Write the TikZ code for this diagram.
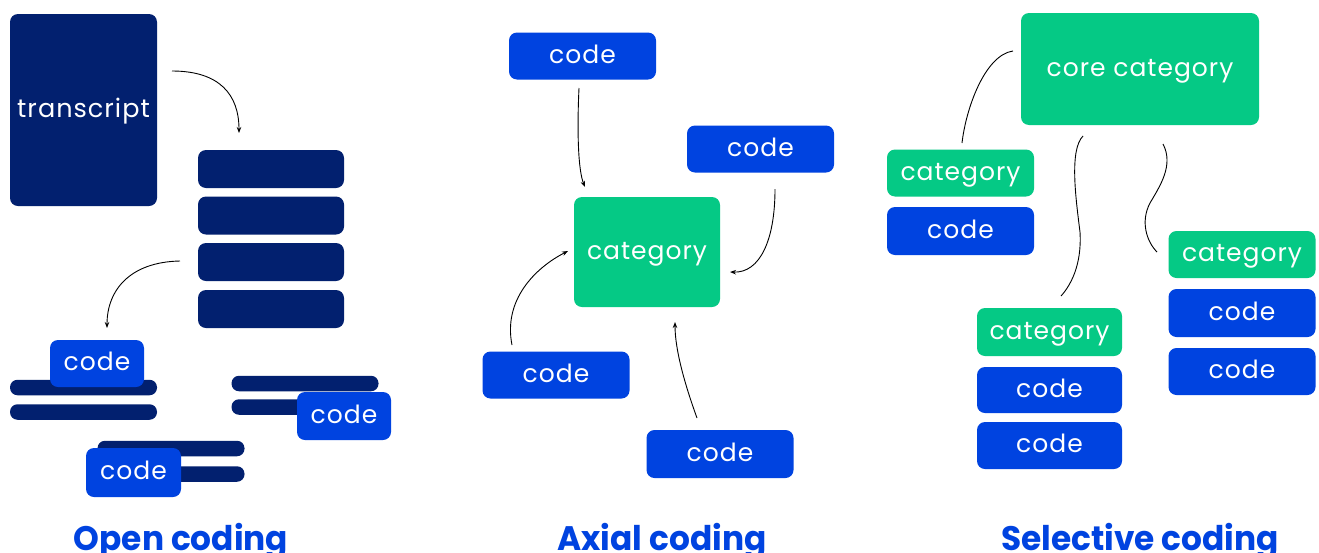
\documentclass[tikz,border=0pt]{standalone}
\usepackage{fontspec}
\setmainfont{Poppins}
\newfontfamily\bodyfont[LetterSpace=4]{Poppins}
\usetikzlibrary{arrows.meta}
\definecolor{navy}{HTML}{02206F}
\definecolor{codeblue}{HTML}{0043E0}
\definecolor{catgreen}{HTML}{05C985}
\begin{document}
\begin{tikzpicture}[x=1pt,y=-1pt,
  boxbase/.style={rounded corners=8pt, inner sep=0pt, text=white,
    font=\bodyfont\fontsize{25}{30}\selectfont, text height=19pt, text depth=5pt},
  navybox/.style={boxbase, fill=navy},
  codebox/.style={boxbase, fill=codeblue, minimum width=147pt, minimum height=47pt},
  catbox/.style={boxbase, fill=catgreen, minimum width=147pt, minimum height=47pt},
  bar/.style={fill=navy, rounded corners=7.5pt, inner sep=0pt, minimum width=147pt, minimum height=15.5pt},
  stackbar/.style={navybox, minimum width=146pt, minimum height=38pt},
  arr/.style={line width=0.9pt, -{Stealth[length=6pt,width=4.5pt]}},
  link/.style={line width=0.9pt},
  title/.style={anchor=base, text=codeblue, font=\fontsize{34}{40}\selectfont\bfseries,
    xscale=0.965, transform shape}
]
\useasboundingbox (0,0) rectangle (1319,552);
\fill[white] (0,0) rectangle (1319,552);

% ---------------- Open coding ----------------
\node[navybox, minimum width=147pt, minimum height=192pt,
  font=\bodyfont\fontsize{25.5}{30}\selectfont, text height=20pt, text depth=6pt] (transcript) at (83.5,110) {transcript};
\node[stackbar] (s1) at (271,169) {};
\node[stackbar] (s2) at (271,215.5) {};
\node[stackbar] (s3) at (271,262) {};
\node[stackbar] (s4) at (271,309) {};

\coordinate (a1s) at (172,71);
\coordinate (a1e) at (239,133);
\draw[arr] (a1s) .. controls (220,71) and (239,95) .. (a1e);
\coordinate (a2s) at (180,261);
\coordinate (a2e) at (107,328);
\draw[arr] (a2s) .. controls (130,262) and (107,290) .. (a2e);

% group 1
\node[bar] (g1a) at (83.5,387.5) {};
\node[bar] (g1b) at (83.5,412) {};
\node[codebox, minimum width=94pt] (oc1) at (97,363.5) {code};
% group 2
\node[bar] (g2a) at (305,383.5) {};
\node[bar] (g2b) at (305,407) {};
\node[codebox, minimum width=94pt, minimum height=48pt] (oc2) at (344,416) {code};
% group 3
\node[bar] (g3a) at (171,448.5) {};
\node[bar] (g3b) at (171,474) {};
\node[codebox, minimum width=95pt, minimum height=49pt] (oc3) at (133.5,472.5) {code};

\node[title] (t1) at (181,550) {Open coding};

% ---------------- Axial coding ----------------
\node[codebox] (ac1) at (582.5,56) {code};
\node[codebox] (ac2) at (760.5,149) {code};
\node[catbox, minimum width=146pt, minimum height=110pt] (acat) at (647,252) {category};
\node[codebox] (ac3) at (556,375) {code};
\node[codebox, minimum height=48pt] (ac4) at (720,454) {code};

\coordinate (b1s) at (579,88);
\coordinate (b1e) at (585,187);
\draw[arr] (b1s) .. controls (577,130) and (578,170) .. (b1e);
\coordinate (b2s) at (775,189);
\coordinate (b2e) at (730,272);
\draw[arr] (b2s) .. controls (775,240) and (760,273) .. (b2e);
\coordinate (b3s) at (512,345);
\coordinate (b3e) at (568,251);
\draw[arr] (b3s) .. controls (503,300) and (535,268) .. (b3e);
\coordinate (b4s) at (697,418);
\coordinate (b4e) at (675,322);
\draw[arr] (b4s) .. controls (685,385) and (675,350) .. (b4e);

\node[title] (t2) at (662,550) {Axial coding};

% ---------------- Selective coding ----------------
\node[catbox, minimum width=238pt, minimum height=112pt] (core) at (1140,69) {core category};
\node[catbox] (sc1) at (960.5,173) {category};
\node[codebox, minimum height=48pt] (sd1) at (960.5,231) {code};
\node[catbox] (sc2) at (1242,254.5) {category};
\node[codebox, minimum height=48pt] (sd2) at (1242,313) {code};
\node[codebox] (sd3) at (1242,371.5) {code};
\node[catbox, minimum width=145pt, minimum height=48pt] (sc3) at (1049.5,332) {category};
\node[codebox, minimum width=145pt, minimum height=46pt] (sd4) at (1049.5,390) {code};
\node[codebox, minimum width=145pt, minimum height=47pt] (sd5) at (1049.5,445.5) {code};

\coordinate (c1s) at (962,143);
\coordinate (c1e) at (1013,51);
\draw[link] (c1s) .. controls (966,108) and (985,55) .. (c1e);
\coordinate (c2s) at (1083,136);
\coordinate (c2m) at (1080,232);
\coordinate (c2e) at (1061,296);
\draw[link] (c2s) .. controls (1069,150) and (1076,200) .. (c2m) .. controls (1082,266) and (1070,286) .. (c2e);
\coordinate (c3s) at (1163,144);
\coordinate (c3m) at (1150,203);
\coordinate (c3e) at (1157,252);
\draw[link] (c3s) .. controls (1174,165) and (1160,186) .. (c3m) .. controls (1140,222) and (1147,242) .. (c3e);

\node[title] (t3) at (1140,550) {Selective coding};
\end{tikzpicture}
\end{document}
